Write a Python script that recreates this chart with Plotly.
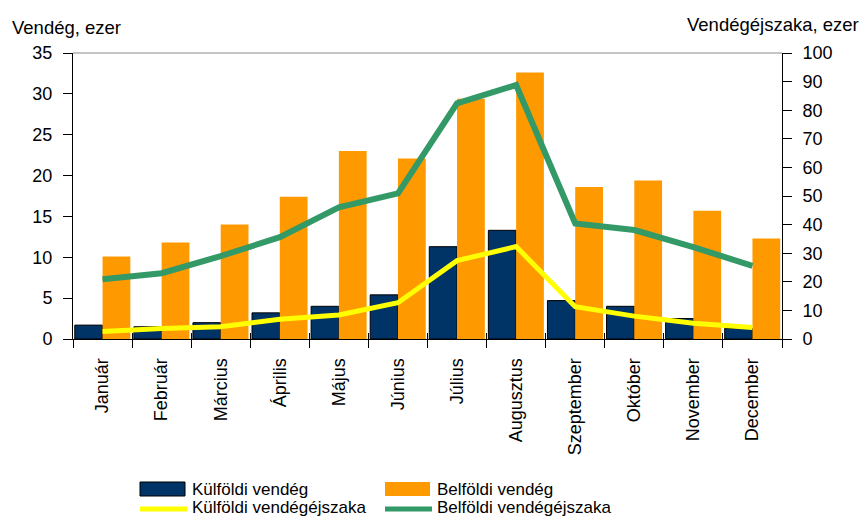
import plotly.graph_objects as go

months = ["Január", "Február", "Március", "Április", "Május", "Június",
          "Július", "Augusztus", "Szeptember", "Október", "November", "December"]
kulfoldi_vendeg = [1.7, 1.5, 2.0, 3.2, 4.0, 5.4, 11.3, 13.3, 4.7, 4.0, 2.5, 1.3]
belfoldi_vendeg = [10.1, 11.8, 14.0, 17.4, 23.0, 22.1, 29.4, 32.6, 18.6, 19.4, 15.7, 12.3]
kulfoldi_ejszaka = [2.6, 3.7, 4.3, 6.9, 8.4, 12.7, 27.4, 32.3, 11.3, 8.0, 5.5, 4.0]
belfoldi_ejszaka = [20.9, 23.0, 29.0, 35.6, 46.0, 50.9, 82.4, 88.8, 40.4, 38.1, 32.1, 25.6]

W, H = 862, 519
L, R, T, B = 73, 80, 53, 180
PW, PH = W - L - R, H - T - B
FONT = "Liberation Sans, Arial, sans-serif"


def px(xp):
    return (xp - L) / PW


def py(yp):
    return (H - B - yp) / PH


fig = go.Figure()
fig.add_trace(go.Bar(x=months, y=kulfoldi_vendeg, name="Külföldi vendég",
                     marker=dict(color="#003366", line=dict(color="black", width=1)),
                     xaxis="x", yaxis="y", showlegend=False))
fig.add_trace(go.Bar(x=months, y=belfoldi_vendeg, name="Belföldi vendég",
                     marker=dict(color="#FF9900", line=dict(color="#FF9900", width=0)),
                     xaxis="x", yaxis="y", showlegend=False))
fig.add_trace(go.Scatter(x=months, y=kulfoldi_ejszaka, name="Külföldi vendégéjszaka",
                         mode="lines", line=dict(color="#FFFF00", width=5),
                         xaxis="x2", yaxis="y2", showlegend=False))
fig.add_trace(go.Scatter(x=months, y=belfoldi_ejszaka, name="Belföldi vendégéjszaka",
                         mode="lines", line=dict(color="#339966", width=6),
                         xaxis="x2", yaxis="y2", showlegend=False))

tickfont = dict(family=FONT, size=18, color="black")
cat = dict(type="category", categoryorder="array", categoryarray=months,
           range=[-0.5, 11.5], showgrid=False, zeroline=False, tickson="boundaries")

fig.update_layout(
    width=W, height=H, autosize=False,
    margin=dict(l=L, r=R, t=T, b=B),
    paper_bgcolor="white", plot_bgcolor="white",
    font=dict(family=FONT, size=18, color="black"),
    barmode="group", bargap=0.06, bargroupgap=0,
    xaxis=dict(**cat, anchor="y", showline=True, linecolor="black", linewidth=1,
               ticks="outside", ticklen=8, tickcolor="black", tickangle=-90,
               tickfont=tickfont, ticklabelstandoff=11),
    xaxis2=dict(**cat, anchor="y2", overlaying="x", side="bottom", showline=False,
                ticks="inside", ticklen=6, tickcolor="black", showticklabels=False),
    yaxis=dict(range=[0, 35], dtick=5, showgrid=False, zeroline=False, showline=True,
               linecolor="black", linewidth=1, ticks="outside", ticklen=9,
               tickcolor="black", tickfont=tickfont, anchor="x", ticklabelstandoff=7),
    yaxis2=dict(range=[0, 100], dtick=10, showgrid=False, zeroline=False, showline=True,
                linecolor="black", linewidth=1, ticks="outside", ticklen=9,
                tickcolor="black", tickfont=tickfont, overlaying="y", side="right",
                anchor="x2", ticklabelstandoff=7),
    yaxis3=dict(range=[0, 35], dtick=5, showgrid=False, zeroline=False, showline=False,
                ticks="inside", ticklen=8, tickcolor="black", showticklabels=False,
                overlaying="y", side="left", anchor="x"),
    yaxis4=dict(range=[0, 100], dtick=10, showgrid=False, zeroline=False, showline=False,
                ticks="inside", ticklen=7, tickcolor="black", showticklabels=False,
                overlaying="y", side="right", anchor="x"),
)

shapes = [dict(type="line", xref="paper", yref="paper", x0=0, x1=1, y0=1, y1=1,
               line=dict(color="#8c8c8c", width=1))]
# legend symbols
shapes.append(dict(type="rect", xref="paper", yref="paper", x0=px(140), x1=px(185),
                   y0=py(496), y1=py(482), fillcolor="#003366",
                   line=dict(color="black", width=1)))
shapes.append(dict(type="rect", xref="paper", yref="paper", x0=px(385), x1=px(430),
                   y0=py(496), y1=py(482), fillcolor="#FF9900",
                   line=dict(color="#FF9900", width=0)))
shapes.append(dict(type="line", xref="paper", yref="paper", x0=px(140), x1=px(187),
                   y0=py(509), y1=py(509), line=dict(color="#FFFF00", width=5)))
shapes.append(dict(type="line", xref="paper", yref="paper", x0=px(385), x1=px(432),
                   y0=py(509), y1=py(509), line=dict(color="#339966", width=5)))
fig.update_layout(shapes=shapes)

legfont = dict(family=FONT, size=17, color="black")
titlefont = dict(family=FONT, size=18.5, color="black")
ann = [
    dict(text="Vendég, ezer", xref="paper", yref="paper", x=px(10), y=py(28),
         xanchor="left", yanchor="middle", showarrow=False, font=titlefont),
    dict(text="Vendégéjszaka, ezer", xref="paper", yref="paper", x=px(861), y=py(25),
         xanchor="right", yanchor="middle", showarrow=False, font=titlefont),
    dict(text="Külföldi vendég", xref="paper", yref="paper", x=px(190), y=py(489),
         xanchor="left", yanchor="middle", showarrow=False, font=legfont),
    dict(text="Belföldi vendég", xref="paper", yref="paper", x=px(435), y=py(489),
         xanchor="left", yanchor="middle", showarrow=False, font=legfont),
    dict(text="Külföldi vendégéjszaka", xref="paper", yref="paper", x=px(190), y=py(507),
         xanchor="left", yanchor="middle", showarrow=False, font=legfont),
    dict(text="Belföldi vendégéjszaka", xref="paper", yref="paper", x=px(435), y=py(507),
         xanchor="left", yanchor="middle", showarrow=False, font=legfont),
]
fig.update_layout(annotations=ann)

fig.write_html("out.html", config={"displayModeBar": False},
               post_script="document.body.style.margin='0';document.body.style.padding='0';")
